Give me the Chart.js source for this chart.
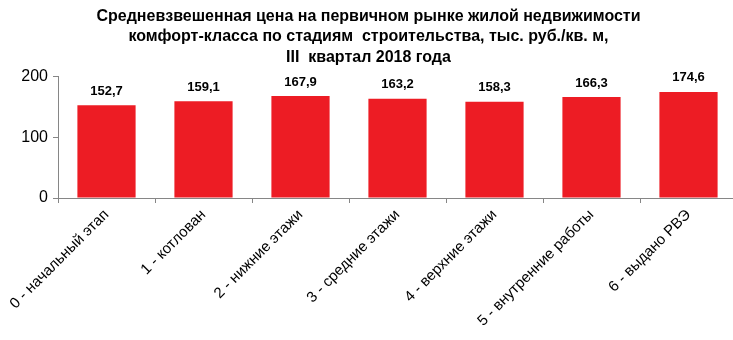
<!DOCTYPE html>
<html lang="ru">
<head>
<meta charset="utf-8">
<title>Средневзвешенная цена по стадиям строительства</title>
<script src="https://cdn.jsdelivr.net/npm/chart.js@4.4.1/dist/chart.umd.min.js"></script>
<style>
  html, body { margin: 0; padding: 0; background: #fff; overflow: hidden; }
  #wrap { position: relative; width: 752px; height: 340px; }
</style>
</head>
<body>
<div id="wrap"><canvas id="priceChart"></canvas></div>
<script>
// Стадии строительства и цены, тыс. руб./кв. м
const stages = [
    '0 - начальный этап',
    '1 - котлован',
    '2 - нижние этажи',
    '3 - средние этажи',
    '4 - верхние этажи',
    '5 - внутренние работы',
    '6 - выдано РВЭ'
];
const prices = [152.7, 159.1, 167.9, 163.2, 158.3, 166.3, 174.6];
const yTicks = [0, 100, 200];
const titleLines = [
    'Средневзвешенная цена на первичном рынке жилой недвижимости',
    'комфорт-класса по стадиям  строительства, тыс. руб./кв. м,',
    'III  квартал 2018 года'
];

const axisGray = '#868686';
const barRed = '#ED1C24';
const fontFamily = '"Liberation Sans", Arial, sans-serif';

// Подписи значений над столбцами (с запятой)
const valueLabels = {
    id: 'valueLabels',
    afterDatasetsDraw(chart) {
        const ctx = chart.ctx;
        const meta = chart.getDatasetMeta(0);
        ctx.save();
        ctx.font = 'bold 13px ' + fontFamily;
        ctx.fillStyle = '#000';
        ctx.textAlign = 'center';
        ctx.textBaseline = 'middle';
        meta.data.forEach((bar, i) => {
            const txt = prices[i].toFixed(1).replace('.', ',');
            ctx.fillText(txt, bar.x, bar.y - 14);
        });
        ctx.restore();
    }
};

const ctx = document.getElementById('priceChart').getContext('2d');
new Chart(ctx, {
    type: 'bar',
    data: {
        labels: stages,
        datasets: [{
            data: prices,
            backgroundColor: barRed,
            borderWidth: 0,
            barPercentage: 0.6,
            categoryPercentage: 1
        }]
    },
    options: {
        responsive: true,
        maintainAspectRatio: false,
        animation: false,
        layout: { padding: { left: 0, right: 15, top: 0, bottom: 0 } },
        plugins: {
            legend: { display: false },
            tooltip: { enabled: false },
            title: {
                display: true,
                text: titleLines,
                color: '#000',
                font: { family: fontFamily, size: 16, weight: 'bold', lineHeight: 1.28 },
                padding: { top: 6, bottom: 9 }
            }
        },
        scales: {
            x: {
                grid: {
                    display: true,
                    drawOnChartArea: false,
                    drawTicks: true,
                    tickLength: 5,
                    color: axisGray,
                    offset: true
                },
                border: { color: axisGray, width: 1 },
                ticks: {
                    color: '#000',
                    font: { family: fontFamily, size: 15 },
                    minRotation: 45,
                    maxRotation: 45,
                    padding: 3,
                    autoSkip: false
                },
                afterFit(scale) { scale.height = 142; }
            },
            y: {
                min: 0,
                max: 200,
                afterBuildTicks(scale) { scale.ticks = yTicks.map(v => ({ value: v })); },
                grid: {
                    display: true,
                    drawOnChartArea: false,
                    drawTicks: true,
                    tickLength: 5,
                    color: axisGray
                },
                border: { color: axisGray, width: 1 },
                ticks: {
                    color: '#000',
                    font: { family: fontFamily, size: 16 },
                    padding: 5
                },
                afterFit(scale) { scale.width = 58; }
            }
        }
    },
    plugins: [valueLabels]
});
</script>
</body>
</html>
